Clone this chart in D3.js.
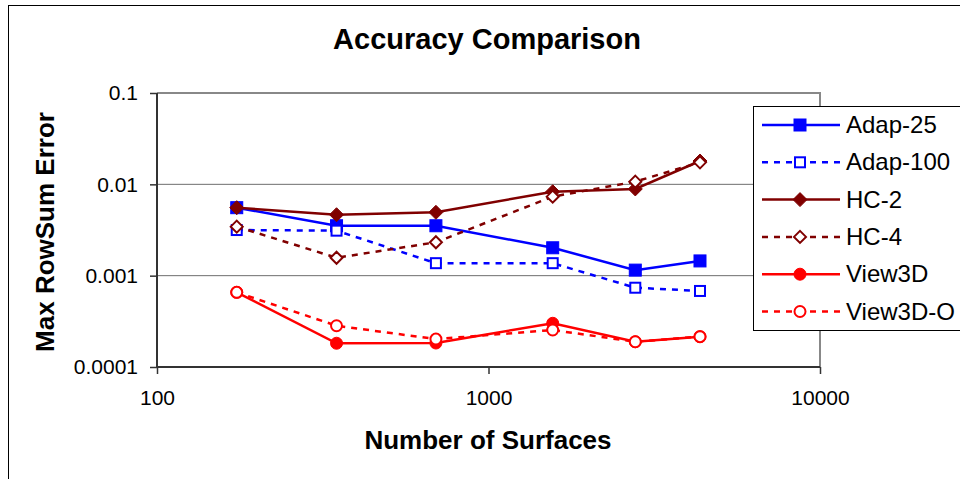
<!DOCTYPE html>
<html>
<head>
<meta charset="utf-8">
<script src="https://cdn.jsdelivr.net/npm/d3@7/dist/d3.min.js"></script>
<style>
  html, body { margin: 0; padding: 0; background: #fff; }
  svg { display: block; font-family: Arial, "Liberation Sans", sans-serif; }
</style>
</head>
<body>
<svg id="chart" width="960" height="479"></svg>
<script>
// ---- data ----
const surfaces = [174, 348, 694, 1562, 2772, 4345];
const seriesNames = ["Adap-25", "Adap-100", "HC-2", "HC-4", "View3D", "View3D-O"];
const adap25  = [0.00555, 0.00352, 0.00352, 0.00202, 0.00115, 0.00145];
const adap100 = [0.00316, 0.00311, 0.00137, 0.00137, 0.000738, 0.00068];
const hc2     = [0.00555, 0.00465, 0.00494, 0.0083, 0.0089, 0.018];
const hc4     = [0.00344, 0.00157, 0.00232, 0.00733, 0.0107, 0.0174];
const view3d  = [0.000657, 0.000182, 0.000183, 0.000301, 0.000189, 0.000215];
const view3do = [0.000657, 0.000283, 0.000202, 0.000254, 0.000189, 0.000215];
const yTicks = [0.1, 0.01, 0.001, 0.0001];
const yTickLabels = ["0.1", "0.01", "0.001", "0.0001"];
const xTicks = [100, 1000, 10000];
const xTickLabels = ["100", "1000", "10000"];

const seriesValues = [adap25, adap100, hc2, hc4, view3d, view3do];
const styles = [
  { color: "#0000FF", dash: null,  marker: "square",  filled: true },
  { color: "#0000FF", dash: "6,6", marker: "square",  filled: false },
  { color: "#800000", dash: null,  marker: "diamond", filled: true },
  { color: "#800000", dash: "6,6", marker: "diamond", filled: false },
  { color: "#FF0000", dash: null,  marker: "circle",  filled: true },
  { color: "#FF0000", dash: "6,6", marker: "circle",  filled: false }
];

// ---- layout ----
const svg = d3.select("#chart");
const plot = { left: 157, top: 93, right: 820, bottom: 367 };

const x = d3.scaleLog().domain([100, 10000]).range([plot.left, plot.right]);
const y = d3.scaleLog().domain([0.0001, 0.1]).range([plot.bottom, plot.top]);

// outer border
svg.append("rect").attr("x", 8.5).attr("y", 5.5).attr("width", 1000).attr("height", 1000)
  .attr("fill", "none").attr("stroke", "#000").attr("stroke-width", 1);

// title
svg.append("text").attr("x", 487).attr("y", 49).attr("text-anchor", "middle")
  .attr("font-size", 29).attr("font-weight", "bold").text("Accuracy Comparison");

// gridlines
svg.append("g").selectAll("line").data([0.01, 0.001]).join("line")
  .attr("x1", plot.left).attr("x2", plot.right)
  .attr("y1", d => y(d)).attr("y2", d => y(d))
  .attr("stroke", "#6e6e6e").attr("stroke-width", 1);

// plot border top/right
svg.append("path")
  .attr("d", `M${plot.left},${plot.top}H${plot.right}V${plot.bottom}`)
  .attr("fill", "none").attr("stroke", "#888").attr("stroke-width", 2);

// axes
const yAxis = d3.axisLeft(y).tickValues(yTicks)
  .tickFormat((d, i) => yTickLabels[i]).tickSize(7).tickPadding(12);
const gy = svg.append("g").attr("transform", `translate(${plot.left},0)`).call(yAxis);
gy.select(".domain").attr("stroke", "#333").attr("stroke-width", 2).attr("d", `M0,${plot.top}V${plot.bottom}`);
gy.selectAll(".tick line").attr("stroke", "#333").attr("stroke-width", 1.5);
gy.selectAll(".tick text").attr("font-size", 21).attr("fill", "#000")
  .attr("font-family", "Arial, 'Liberation Sans', sans-serif");

const xAxis = d3.axisBottom(x).tickValues(xTicks)
  .tickFormat((d, i) => xTickLabels[i]).tickSize(7).tickPadding(16);
const gx = svg.append("g").attr("transform", `translate(0,${plot.bottom})`).call(xAxis);
gx.select(".domain").attr("stroke", "#333").attr("stroke-width", 2).attr("d", `M${plot.left},0H${plot.right}`);
gx.selectAll(".tick line").attr("stroke", "#333").attr("stroke-width", 1.5);
gx.selectAll(".tick text").attr("font-size", 21).attr("fill", "#000")
  .attr("font-family", "Arial, 'Liberation Sans', sans-serif");

// axis titles
svg.append("text").attr("x", 488).attr("y", 449).attr("text-anchor", "middle")
  .attr("font-size", 26).attr("font-weight", "bold").text("Number of Surfaces");
svg.append("text").attr("transform", "translate(54,232) rotate(-90)").attr("text-anchor", "middle")
  .attr("font-size", 26).attr("font-weight", "bold").text("Max RowSum Error");

// markers
function drawMarker(g, cx, cy, st) {
  const fill = st.filled ? st.color : "#fff";
  const sw = st.filled ? 1 : 2;
  if (st.marker === "square") {
    const s = st.filled ? 12 : 10;
    g.append("rect").attr("x", cx - s / 2).attr("y", cy - s / 2).attr("width", s).attr("height", s)
      .attr("fill", fill).attr("stroke", st.color).attr("stroke-width", sw);
  } else if (st.marker === "diamond") {
    const r = st.filled ? 7 : 6;
    g.append("path").attr("d", `M${cx},${cy - r}L${cx + r},${cy}L${cx},${cy + r}L${cx - r},${cy}Z`)
      .attr("fill", fill).attr("stroke", st.color).attr("stroke-width", sw);
  } else {
    const r = st.filled ? 6 : 5.5;
    g.append("circle").attr("cx", cx).attr("cy", cy).attr("r", r)
      .attr("fill", fill).attr("stroke", st.color).attr("stroke-width", sw);
  }
}

// series
const line = d3.line().x(d => x(d[0])).y(d => y(d[1]));
seriesValues.forEach((vals, i) => {
  const st = styles[i];
  const pts = surfaces.map((s, j) => [s, vals[j]]);
  const g = svg.append("g");
  g.append("path").attr("d", line(pts)).attr("fill", "none")
    .attr("stroke", st.color).attr("stroke-width", 2.5)
    .attr("stroke-dasharray", st.dash);
  pts.forEach(p => drawMarker(g, x(p[0]), y(p[1]), st));
});

// legend
const leg = svg.append("g");
leg.append("rect").attr("x", 753.5).attr("y", 106.5).attr("width", 300).attr("height", 224)
  .attr("fill", "#fff").attr("stroke", "#000").attr("stroke-width", 1);
seriesNames.forEach((name, i) => {
  const st = styles[i];
  const ry = 125 + i * 37.3;
  leg.append("line").attr("x1", 762).attr("x2", 840).attr("y1", ry).attr("y2", ry)
    .attr("stroke", st.color).attr("stroke-width", 2.5).attr("stroke-dasharray", st.dash);
  drawMarker(leg, 800, ry, st);
  leg.append("text").attr("x", 846).attr("y", ry + 8).attr("font-size", 24).text(name);
});
</script>
</body>
</html>
